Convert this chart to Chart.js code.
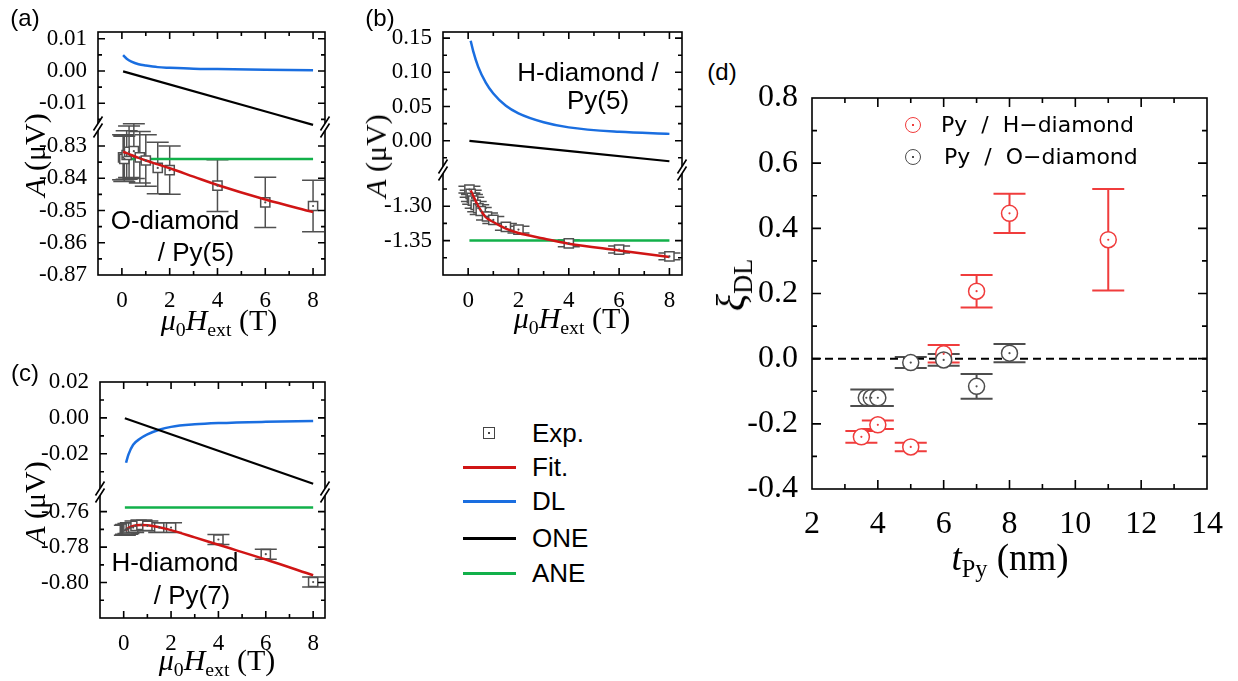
<!DOCTYPE html>
<html>
<head>
<meta charset="utf-8">
<script src="https://cdn.jsdelivr.net/npm/chart.js@4.4.1/dist/chart.umd.min.js"></script>
<style>
  body { margin: 0; background: #fff; }
  #fig { position: relative; width: 1238px; height: 681px; background: #fff; overflow: hidden; }
  #fig canvas { position: absolute; }
  .t { position: absolute; transform: translate(-50%, -50%); white-space: pre; color: #000; line-height: 1; }
  .sans { font-family: "Liberation Sans", Arial, sans-serif; }
  .serif { font-family: "Liberation Serif", "Times New Roman", serif; }
  .rot { transform: translate(-50%, -50%) rotate(-90deg); }
  .t sub { font-size: 0.66em; vertical-align: -0.32em; line-height: 0; }
  .swatch { position: absolute; height: 3px; width: 53px; left: 463px; }
  .lg { position: absolute; left: 532px; font-size: 26px; line-height: 26px; }
  .mk { position: absolute; box-sizing: border-box; background: #fff; }
  .mk::after { content: ""; position: absolute; left: 50%; top: 50%; width: 2px; height: 2px; margin: -1px 0 0 -1px; background: currentColor; }
</style>
</head>
<body>
<div id="fig">
  <canvas id="panelA" width="317" height="303" style="left:28px;top:12px"></canvas>
  <canvas id="panelB" width="329" height="303" style="left:373px;top:12px"></canvas>
  <canvas id="panelC" width="315" height="296" style="left:30px;top:362px"></canvas>
  <canvas id="panelD" width="495" height="467" style="left:742px;top:72px"></canvas>

  <div class="t sans" style="left:25px;top:18px;font-size:24px">(a)</div>
  <div class="t sans" style="left:380px;top:18px;font-size:24px">(b)</div>
  <div class="t sans" style="left:25px;top:373px;font-size:24px">(c)</div>
  <div class="t sans" style="left:722px;top:72px;font-size:24px">(d)</div>

  <div class="t sans" style="left:175px;top:220px;font-size:26px">O-diamond</div>
  <div class="t sans" style="left:196px;top:252px;font-size:26px">/ Py(5)</div>
  <div class="t sans" style="left:588px;top:72px;font-size:26px">H-diamond /</div>
  <div class="t sans" style="left:598px;top:100px;font-size:26px">Py(5)</div>
  <div class="t sans" style="left:175px;top:562px;font-size:26px">H-diamond</div>
  <div class="t sans" style="left:192px;top:595px;font-size:26px">/ Py(7)</div>

  <div class="t serif rot" style="left:35px;top:155px;font-size:30px"><i>A</i> (μV)</div>
  <div class="t serif rot" style="left:376px;top:156px;font-size:30px"><i>A</i> (μV)</div>
  <div class="t serif rot" style="left:35px;top:503px;font-size:30px"><i>A</i> (μV)</div>
  <div class="t serif" style="left:219px;top:320px;font-size:30px"><i>μ</i><sub>0</sub><i>H</i><sub>ext</sub> (T)</div>
  <div class="t serif" style="left:572px;top:318px;font-size:30px"><i>μ</i><sub>0</sub><i>H</i><sub>ext</sub> (T)</div>
  <div class="t serif" style="left:217px;top:660px;font-size:30px"><i>μ</i><sub>0</sub><i>H</i><sub>ext</sub> (T)</div>
  <div class="t serif rot" style="left:731px;top:285px;font-size:40px"><i>ξ</i><sub>DL</sub></div>
  <div class="t serif" style="left:1010px;top:557px;font-size:37px"><i>t</i><sub>Py</sub> (nm)</div>

  <!-- shared legend for (a)-(c) -->
  <div class="mk" style="left:483px;top:427px;width:12px;height:12px;border:1.5px solid #444;color:#444"></div>
  <div class="lg sans" style="top:420px">Exp.</div>
  <div class="swatch" style="top:466px;background:#d01515"></div>
  <div class="lg sans" style="top:454px">Fit.</div>
  <div class="swatch" style="top:500px;background:#1a6ee0"></div>
  <div class="lg sans" style="top:488px">DL</div>
  <div class="swatch" style="top:537px;background:#000"></div>
  <div class="lg sans" style="top:525px">ONE</div>
  <div class="swatch" style="top:572px;background:#12b04a"></div>
  <div class="lg sans" style="top:560px">ANE</div>

  <!-- legend for (d) -->
  <div class="mk" style="left:905px;top:117px;width:16px;height:16px;border:1.5px solid #f03c3c;border-radius:50%;color:#f03c3c"></div>
  <div class="t" style="left:941px;top:125px;transform:translate(0,-50%);font-family:'DejaVu Sans';font-size:22px">Py  /  H−diamond</div>
  <div class="mk" style="left:905px;top:149px;width:16px;height:16px;border:1.5px solid #4d4d4d;border-radius:50%;color:#4d4d4d"></div>
  <div class="t" style="left:944px;top:157px;transform:translate(0,-50%);font-family:'DejaVu Sans';font-size:22px">Py  /  O−diamond</div>
</div>

<script>
// ---- (a) O-diamond / Py(5) ----
const fieldA = [0.05, 0.1, 0.2, 0.3, 0.5, 0.75, 1, 1.5, 2, 4, 6, 8];
const expA = [-0.8335, -0.8340, -0.8328, -0.8318, -0.8316, -0.8335, -0.8345, -0.8368, -0.8375, -0.8423, -0.8475, -0.8486];
const errA = [0.007, 0.007, 0.0075, 0.008, 0.0085, 0.008, 0.008, 0.008, 0.0075, 0.008, 0.0078, 0.008];
const curveFieldA = [0.05, 0.2, 0.4, 0.7, 1, 1.5, 2, 3, 4, 6, 8];
const fitA = [-0.8318, -0.8322, -0.8328, -0.8337, -0.8345, -0.8357, -0.8369, -0.8395, -0.8421, -0.8466, -0.8505];
const dlA = [0.0049, 0.0038, 0.0029, 0.0021, 0.0017, 0.0012, 0.0010, 0.0007, 0.0006, 0.0004, 0.0002];
const oneA = [-0.0001, -0.0167];
const aneA = [-0.834, -0.834];
const ticksUpA = [-0.01, 0, 0.01];
const ticksLowA = [-0.87, -0.86, -0.85, -0.84, -0.83];

// ---- (b) H-diamond / Py(5) ----
const fieldB = [0.05, 0.1, 0.15, 0.2, 0.3, 0.4, 0.5, 0.75, 1, 1.5, 2, 4, 6, 8];
const expB = [-1.276, -1.282, -1.288, -1.292, -1.298, -1.303, -1.307, -1.315, -1.320, -1.330, -1.334, -1.354, -1.363, -1.373];
const errB = [0.005, 0.005, 0.005, 0.005, 0.005, 0.005, 0.005, 0.005, 0.005, 0.005, 0.005, 0.005, 0.005, 0.005];
const curveFieldB = [0.1, 0.2, 0.4, 0.7, 1, 1.5, 2, 3, 4, 6, 8];
const fitB = [-1.277, -1.285, -1.300, -1.316, -1.323, -1.3326, -1.339, -1.347, -1.3546, -1.3643, -1.374];
const dlB = [0.146, 0.131, 0.108, 0.085, 0.069, 0.051, 0.040, 0.027, 0.0195, 0.0130, 0.0100];
const oneB = [-0.0002, -0.030];
const aneB = [-1.35, -1.35];
const ticksUpB = [0, 0.05, 0.10, 0.15];
const ticksLowB = [-1.40, -1.35, -1.30];

// ---- (c) H-diamond / Py(7) ----
const fieldC = [0.05, 0.1, 0.15, 0.2, 0.3, 0.4, 0.5, 0.75, 1, 1.5, 2, 4, 6, 8];
const expC = [-0.7705, -0.7700, -0.7700, -0.7695, -0.7690, -0.7690, -0.7680, -0.7675, -0.7680, -0.7690, -0.7690, -0.7757, -0.7840, -0.7997];
const errC = [0.0028, 0.0028, 0.0028, 0.0028, 0.0028, 0.0028, 0.0028, 0.0028, 0.0028, 0.0028, 0.0028, 0.0028, 0.0028, 0.0028];
const curveFieldC = [0.1, 0.2, 0.4, 0.7, 1, 1.5, 2, 3, 4, 6, 8];
const fitC = [-0.7704, -0.7692, -0.7680, -0.7675, -0.7676, -0.7688, -0.7704, -0.7745, -0.7787, -0.7870, -0.7959];
const dlC = [-0.0250, -0.0205, -0.0150, -0.0115, -0.0092, -0.0066, -0.0050, -0.0036, -0.0029, -0.0022, -0.0018];
const oneC = [-0.0002, -0.0367];
const aneC = [-0.7576, -0.7576];
const ticksUpC = [-0.02, 0, 0.02];
const ticksLowC = [-0.82, -0.80, -0.78, -0.76];

const lineEnds = [0.05, 8];
const ticksField = [0, 2, 4, 6, 8];

// ---- (d) xi_DL vs Py thickness ----
const thickH = [3.5, 4, 5, 6, 7, 8, 11];
const xiH = [-0.240, -0.203, -0.271, 0.015, 0.207, 0.446, 0.365];
const xiHErr = [0.018, 0.013, 0.013, 0.027, 0.05, 0.06, 0.156];
const thickO = [3.65, 3.8, 4, 5, 6, 7, 8];
const xiO = [-0.12, -0.12, -0.12, -0.012, -0.004, -0.085, 0.017];
const xiOErr = [0.025, 0.025, 0.025, 0.017, 0.018, 0.038, 0.028];
const zeroLineX = [2, 14];
const zeroLineY = [0, 0];
const ticksThick = [2, 4, 6, 8, 10, 12, 14];
const ticksXi = [-0.4, -0.2, 0, 0.2, 0.4, 0.6, 0.8];

const RED = '#d01515', BLUE = '#1a6ee0', GREEN = '#12b04a', GRAY = '#505050';
const SERIF = '"Liberation Serif", "Times New Roman", serif';

function pts(xs, ys) { return xs.map((x, i) => ({ x: x, y: ys[i] })); }

// only the values listed get a label, the rest are minor ticks
function tickLabel(majors, digits) {
  return function (v) {
    const m = majors.find(t => Math.abs(t - v) < 1e-9);
    return m === undefined ? '' : m.toFixed(digits);
  };
}

// box frame, inward ticks on all four sides, and the // marks on broken axes
const framePlugin = {
  id: 'frame',
  afterDraw(chart, args, opts) {
    const ctx = chart.ctx, a = chart.chartArea;
    ctx.save();
    ctx.strokeStyle = '#000';
    ctx.lineWidth = 1.6;
    ctx.strokeRect(a.left, a.top, a.right - a.left, a.bottom - a.top);
    ctx.beginPath();
    Object.values(chart.scales).forEach(sc => {
      sc.ticks.forEach(t => {
        const len = t.label !== '' ? opts.major : opts.minor;
        const p = sc.getPixelForValue(t.value);
        if (sc.isHorizontal()) {
          if (p < a.left + 2 || p > a.right - 2) return;
          ctx.moveTo(p, a.bottom); ctx.lineTo(p, a.bottom - len);
          ctx.moveTo(p, a.top); ctx.lineTo(p, a.top + len);
        } else {
          if (p < sc.top + 3 || p > sc.bottom - 3) return;
          ctx.moveTo(a.left, p); ctx.lineTo(a.left + len, p);
          ctx.moveTo(a.right, p); ctx.lineTo(a.right - len, p);
        }
      });
    });
    ctx.stroke();
    if (opts.breakScale) {
      // two steep slashes crossing the axis, with the axis cut between them
      const y = chart.scales[opts.breakScale].bottom;
      const w = 4.5, h = 7, g = 3.5;
      [a.left, a.right].forEach(x => {
        ctx.fillStyle = '#fff';
        ctx.beginPath();
        ctx.moveTo(x - w, y - g + h); ctx.lineTo(x + w, y - g - h);
        ctx.lineTo(x + w, y + g - h); ctx.lineTo(x - w, y + g + h);
        ctx.closePath();
        ctx.fill();
        ctx.beginPath();
        ctx.moveTo(x - w, y - g + h); ctx.lineTo(x + w, y - g - h);
        ctx.moveTo(x - w, y + g + h); ctx.lineTo(x + w, y + g - h);
        ctx.stroke();
      });
    }
    ctx.restore();
  }
};

// vertical error bars with wide caps, plus the dot in the middle of each marker
const errorBarPlugin = {
  id: 'errorBars',
  beforeDatasetsDraw(chart, args, opts) {
    const ctx = chart.ctx;
    chart.data.datasets.forEach(ds => {
      if (!ds.errors) return;
      const xs = chart.scales[ds.xAxisID || 'x'], ys = chart.scales[ds.yAxisID || 'y'];
      ctx.save();
      ctx.strokeStyle = ds.borderColor;
      ctx.lineWidth = opts.width;
      ctx.beginPath();
      ds.data.forEach((p, j) => {
        const px = xs.getPixelForValue(p.x);
        const hi = ys.getPixelForValue(p.y + ds.errors[j]);
        const lo = ys.getPixelForValue(p.y - ds.errors[j]);
        ctx.moveTo(px, hi); ctx.lineTo(px, lo);
        ctx.moveTo(px - opts.cap, hi); ctx.lineTo(px + opts.cap, hi);
        ctx.moveTo(px - opts.cap, lo); ctx.lineTo(px + opts.cap, lo);
      });
      ctx.stroke();
      ctx.restore();
    });
  },
  afterDatasetsDraw(chart) {
    const ctx = chart.ctx;
    chart.data.datasets.forEach(ds => {
      if (!ds.errors) return;
      const xs = chart.scales[ds.xAxisID || 'x'], ys = chart.scales[ds.yAxisID || 'y'];
      ctx.save();
      ctx.fillStyle = ds.borderColor;
      ds.data.forEach(p => {
        ctx.beginPath();
        ctx.arc(xs.getPixelForValue(p.x), ys.getPixelForValue(p.y), 1.1, 0, Math.PI * 2);
        ctx.fill();
      });
      ctx.restore();
    });
  }
};

function curve(data, color, axis, width) {
  return { data: data, showLine: true, borderColor: color, borderWidth: width, pointRadius: 0,
           cubicInterpolationMode: 'monotone', yAxisID: axis };
}

function yScale(cfg, id) {
  return {
    type: 'linear', position: 'left', stack: id, stackWeight: cfg.weight,
    min: cfg.min, max: cfg.max,
    afterFit: s => { s.width = 70; },
    grid: { display: false }, border: { display: false },
    ticks: { stepSize: cfg.step, includeBounds: false, autoSkip: false, padding: 3, color: '#000',
             font: { family: SERIF, size: 23 }, callback: tickLabel(cfg.majors, 2) }
  };
}

const charts = [];

function brokenPanel(id, p) {
  charts.push(new Chart(document.getElementById(id), {
    type: 'scatter',
    data: {
      datasets: [
        Object.assign(curve(pts(p.curveX, p.fit), RED, 'yLow', 2.5), { label: 'Fit.' }),
        { label: 'Exp.', data: pts(p.expX, p.exp), errors: p.err, yAxisID: 'yLow',
          pointStyle: 'rect', pointRadius: 6.5, borderWidth: 1.5, borderColor: GRAY, backgroundColor: '#fff' },
        Object.assign(curve(pts(lineEnds, p.ane), GREEN, 'yLow', 2.5), { label: 'ANE' }),
        Object.assign(curve(pts(lineEnds, p.one), '#000', 'yUp', 2.2), { label: 'ONE' }),
        Object.assign(curve(pts(p.curveX, p.dl), BLUE, 'yUp', 2.5), { label: 'DL' })
      ]
    },
    options: {
      responsive: false,
      animation: false,
      layout: { padding: { top: 20, right: 20, left: 0, bottom: 0 } },
      plugins: {
        legend: { display: false },
        tooltip: { enabled: false },
        frame: { major: 7, minor: 4, breakScale: 'yUp' },
        errorBars: { width: 1.5, cap: 11 }
      },
      scales: {
        x: {
          type: 'linear', min: -1, max: 8.5,
          afterFit: s => { s.height = 40; },
          grid: { display: false }, border: { display: false },
          ticks: { stepSize: 1, includeBounds: false, autoSkip: false, maxRotation: 0, padding: 4, color: '#000',
                   font: { family: SERIF, size: 23 }, callback: tickLabel(ticksField, 0) }
        },
        yLow: yScale(p.low, id),
        yUp: yScale(p.up, id)
      }
    },
    plugins: [framePlugin, errorBarPlugin]
  }));
}

brokenPanel('panelA', {
  expX: fieldA, exp: expA, err: errA, curveX: curveFieldA, fit: fitA, dl: dlA, one: oneA, ane: aneA,
  up: { min: -0.01736, max: 0.01209, step: 0.005, majors: ticksUpA, weight: 95 },
  low: { min: -0.87, max: -0.82411, step: 0.005, majors: ticksLowA, weight: 148 }
});
brokenPanel('panelB', {
  expX: fieldB, exp: expB, err: errB, curveX: curveFieldB, fit: fitB, dl: dlB, one: oneB, ane: aneB,
  up: { min: -0.0428, max: 0.1589, step: 0.025, majors: ticksUpB, weight: 138 },
  low: { min: -1.40, max: -1.2474, step: 0.025, majors: ticksLowB, weight: 105 }
});
brokenPanel('panelC', {
  expX: fieldC, exp: expC, err: errC, curveX: curveFieldC, fit: fitC, dl: dlC, one: oneC, ane: aneC,
  up: { min: -0.0413, max: 0.02, step: 0.01, majors: ticksUpC, weight: 110 },
  low: { min: -0.82, max: -0.7489, step: 0.01, majors: ticksLowC, weight: 126 }
});

charts.push(new Chart(document.getElementById('panelD'), {
  type: 'scatter',
  data: {
    datasets: [
      { label: 'Py / O-diamond', data: pts(thickO, xiO), errors: xiOErr,
        pointStyle: 'circle', pointRadius: 8, borderWidth: 1.5, borderColor: '#4d4d4d', backgroundColor: '#fff' },
      { label: 'Py / H-diamond', data: pts(thickH, xiH), errors: xiHErr,
        pointStyle: 'circle', pointRadius: 8, borderWidth: 1.5, borderColor: '#f03c3c', backgroundColor: '#fff' },
      { data: pts(zeroLineX, zeroLineY), showLine: true, borderColor: '#000', borderWidth: 2,
        borderDash: [8, 5], pointRadius: 0 }
    ]
  },
  options: {
    responsive: false,
    animation: false,
    layout: { padding: { top: 26, right: 30, left: 0, bottom: 0 } },
    plugins: {
      legend: { display: false },
      tooltip: { enabled: false },
      frame: { major: 9, minor: 5 },
      errorBars: { width: 2, cap: 16 }
    },
    scales: {
      x: {
        type: 'linear', min: 2, max: 14,
        afterFit: s => { s.height = 50; },
        grid: { display: false }, border: { display: false },
        ticks: { stepSize: 1, autoSkip: false, maxRotation: 0, padding: 8, color: '#000',
                 font: { family: SERIF, size: 32 }, callback: tickLabel(ticksThick, 0) }
      },
      y: {
        type: 'linear', min: -0.4, max: 0.8,
        afterFit: s => { s.width = 70; },
        grid: { display: false }, border: { display: false },
        ticks: { stepSize: 0.1, autoSkip: false, padding: 6, color: '#000',
                 font: { family: SERIF, size: 32 }, callback: tickLabel(ticksXi, 1) }
      }
    }
  },
  plugins: [framePlugin, errorBarPlugin]
}));

// redraw once the serif face is ready so the canvas labels use it
if (document.fonts && document.fonts.load) {
  document.fonts.load('23px "Liberation Serif"').then(() => charts.forEach(c => c.update('none')));
}
</script>
</body>
</html>
